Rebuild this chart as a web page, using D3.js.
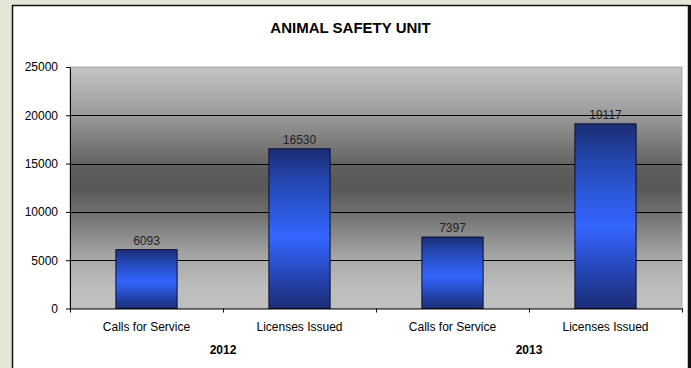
<!DOCTYPE html>
<html>
<head>
<meta charset="utf-8">
<script src="https://cdn.jsdelivr.net/npm/d3@7"></script>
<style>
  html, body { margin: 0; padding: 0; background: #e6e6d6; }
  svg { display: block; }
  text { font-family: "Liberation Sans", Arial, sans-serif; }
</style>
</head>
<body>
<svg id="chart" width="691" height="368"></svg>
<script>
// Chart data
const title = "ANIMAL SAFETY UNIT";
const years = ["2012", "2013"];
const categories = ["Calls for Service", "Licenses Issued"];
const values2012 = [6093, 16530];
const values2013 = [7397, 19117];
const yTicks = [0, 5000, 10000, 15000, 20000, 25000];

const seriesByYear = { "2012": values2012, "2013": values2013 };
const rows = [];
years.forEach(yr => categories.forEach((c, i) => rows.push({ year: yr, cat: c, value: seriesByYear[yr][i], key: yr + "|" + c })));

const W = 691, H = 368;
const plot = { left: 70, right: 682, top: 67, bottom: 308.5 };

const svg = d3.select("#chart");
const defs = svg.append("defs");

// Plot background: light at top and bottom, dark band in the middle
const bg = defs.append("linearGradient").attr("id", "plotBg")
  .attr("x1", 0).attr("y1", 0).attr("x2", 0).attr("y2", 1);
[[0, "#c4c4c4"], [0.2, "#9a9a9a"], [0.42, "#5e5e5e"], [0.5, "#585858"], [0.6, "#6e6e6e"], [0.8, "#aaaaaa"], [0.92, "#bebebe"], [1, "#c0c0c0"]]
  .forEach(([o, c]) => bg.append("stop").attr("offset", o).attr("stop-color", c));

// Bar fill: navy at the ends, bright blue in the middle
const bar = defs.append("linearGradient").attr("id", "barFill")
  .attr("x1", 0).attr("y1", 0).attr("x2", 0).attr("y2", 1);
[[0, "#1b2d74"], [0.2, "#2447b0"], [0.55, "#3366ff"], [0.8, "#2545b5"], [1, "#1b2d74"]]
  .forEach(([o, c]) => bar.append("stop").attr("offset", o).attr("stop-color", c));

// Panel
svg.append("rect").attr("x", 12.5).attr("y", 5.5).attr("width", 676).attr("height", 400)
  .attr("fill", "#ffffff").attr("stroke", "#111").attr("stroke-width", 1.5);
svg.append("rect").attr("x", 688).attr("y", 5).attr("width", 3).attr("height", H)
  .attr("fill", "#111");

// Title
svg.append("text").attr("x", 350.5).attr("y", 33).attr("text-anchor", "middle")
  .attr("font-size", 15).attr("font-weight", "bold").attr("fill", "#000").text(title);

// Scales
const x = d3.scaleBand().domain(rows.map(d => d.key))
  .range([plot.left, plot.right]).paddingInner(0.6).paddingOuter(0.3);
const xEdge = d3.scaleLinear().domain([0, rows.length]).range([plot.left, plot.right]);
const y = d3.scaleLinear().domain([0, 25000]).range([plot.bottom, plot.top]);

// Plot area
svg.append("rect").attr("x", plot.left).attr("y", plot.top)
  .attr("width", plot.right - plot.left).attr("height", plot.bottom - plot.top)
  .attr("fill", "url(#plotBg)").attr("stroke", "#a8a8a8").attr("stroke-width", 1);

// Gridlines
svg.append("g").selectAll("line").data(yTicks.filter(v => v > 0 && v < 25000)).join("line")
  .attr("x1", plot.left).attr("x2", plot.right)
  .attr("y1", d => Math.round(y(d)) + 0.5).attr("y2", d => Math.round(y(d)) + 0.5)
  .attr("stroke", "#000").attr("stroke-width", 1);

// Bars
svg.append("g").selectAll("rect").data(rows).join("rect")
  .attr("x", d => x(d.key)).attr("width", x.bandwidth())
  .attr("y", d => y(d.value)).attr("height", d => y(0) - y(d.value))
  .attr("fill", "url(#barFill)").attr("stroke", "#0a1030").attr("stroke-width", 1);

// Value labels
svg.append("g").selectAll("text").data(rows).join("text")
  .attr("x", d => x(d.key) + x.bandwidth() / 2).attr("y", d => y(d.value) - 5)
  .attr("text-anchor", "middle").attr("font-size", 12).attr("fill", "#222")
  .text(d => d.value);

// Y axis
const yAxis = svg.append("g").attr("transform", `translate(${plot.left},0)`)
  .call(d3.axisLeft(y).tickValues(yTicks).tickSize(4).tickSizeOuter(0).tickPadding(8).tickFormat(d3.format("d")));
yAxis.selectAll("text").attr("font-size", 12).attr("fill", "#000").attr("font-family", "Liberation Sans, Arial, sans-serif");
yAxis.selectAll("line, path").attr("stroke", "#000");

// X axis with ticks on category boundaries
const xAxis = svg.append("g").attr("transform", `translate(0,${plot.bottom})`)
  .call(d3.axisBottom(xEdge).ticks(rows.length).tickSize(4).tickSizeOuter(0).tickFormat(""));
xAxis.selectAll("line, path").attr("stroke", "#000");

// Category labels
svg.append("g").selectAll("text").data(rows).join("text")
  .attr("x", d => x(d.key) + x.bandwidth() / 2).attr("y", 331)
  .attr("text-anchor", "middle").attr("font-size", 12).attr("fill", "#000")
  .text(d => d.cat);

// Year group labels
svg.append("g").selectAll("text").data(years).join("text")
  .attr("x", (d, i) => xEdge(i * categories.length + categories.length / 2)).attr("y", 354)
  .attr("text-anchor", "middle").attr("font-size", 12).attr("font-weight", "bold").attr("fill", "#000")
  .text(d => d);
</script>
</body>
</html>
